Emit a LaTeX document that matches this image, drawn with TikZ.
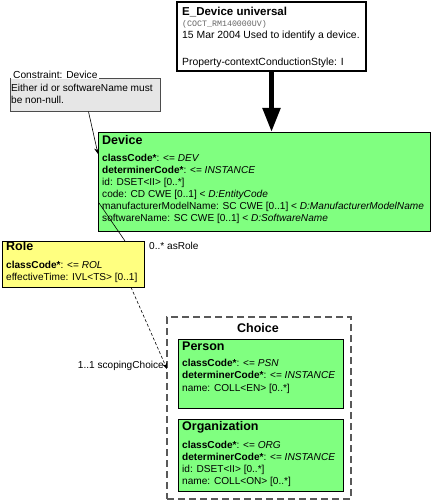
\documentclass[tikz,border=0pt]{standalone}
\usepackage{fontspec}
\setmainfont{Liberation Sans}
\newfontfamily\monof{Liberation Mono}
\usetikzlibrary{arrows.meta}
\definecolor{umlgreen}{RGB}{128,255,128}
\definecolor{umlyellow}{RGB}{255,255,128}
\definecolor{notegray}{RGB}{230,230,230}
\begin{document}
\begin{tikzpicture}[x=1pt,y=-1pt,
  box/.style={draw=black, line width=0.8pt, inner sep=0pt, outer sep=0pt, anchor=north west},
  txt/.style={anchor=base west, inner sep=0pt, font=\fontsize{10.1}{12}\selectfont},
  ttl/.style={anchor=base west, inner sep=0pt, font=\fontsize{12.5}{15}\selectfont\bfseries},
  assoc/.style={line width=0.6pt, -{Stealth[length=6pt,width=5pt]}}
]
\useasboundingbox (0,0) rectangle (433,500);

% header
\node[box, line width=2.2pt, fill=white, minimum width=189pt, minimum height=69pt] (hdr) at (177,2) {};
\node[ttl, font=\fontsize{11.5}{14}\selectfont\bfseries] (ht) at (182,16) {E\_Device universal};
\node[anchor=base west, inner sep=0pt, font=\monof\fontsize{8.3}{10}\selectfont, text=black!60] (hcode) at (182,27) {(COCT\_RM140000UV)};
\node[txt, font=\fontsize{10.4}{12}\selectfont] (h1) at (182,39) {15 Mar 2004 Used to identify a device.};
\node[txt, font=\fontsize{10.4}{12}\selectfont] (h2) at (182,66) {Property-contextConductionStyle: I};

% constraint
\node[box, draw=black!70, fill=notegray, minimum width=150.7pt, minimum height=33.7pt] (con) at (10,78) {};
\node[anchor=base west, inner xsep=2pt, inner ysep=1pt, fill=white, font=\fontsize{10.2}{12}\selectfont] (conl) at (11,78.3) {Constraint: Device};
\node[txt] (c1) at (11,91.7) {Either id or softwareName must};
\node[txt] (c2) at (11,104) {be non-null.};

% device
\node[box, fill=umlgreen, minimum width=332pt, minimum height=99pt] (dev) at (98,132) {};
\node[ttl] (dt) at (102,144.3) {Device};
\node[txt] (d1) at (102,161.3) {\textbf{classCode*}: <= \textit{DEV}};
\node[txt] (d2) at (102,173.3) {\textbf{determinerCode*}: <= \textit{INSTANCE}};
\node[txt] (d3) at (102,185.3) {id: DSET<II> [0..*]};
\node[txt] (d4) at (102,197.3) {code: CD CWE [0..1] < \textit{D:EntityCode}};
\node[txt] (d5) at (102,209.3) {manufacturerModelName: SC CWE [0..1] < \textit{D:ManufacturerModelName}};
\node[txt] (d6) at (102,221.3) {softwareName: SC CWE [0..1] < \textit{D:SoftwareName}};

% role
\node[box, fill=umlyellow, minimum width=142.3pt, minimum height=46.3pt] (role) at (2,241) {};
\node[ttl] (rt) at (6,250.7) {Role};
\node[txt] (r1) at (6,268.3) {\textbf{classCode*}: <= \textit{ROL}};
\node[txt] (r2) at (6,280.5) {effectiveTime: IVL<TS> [0..1]};

% choice
\node[box, draw=black!65, line width=1.3pt, dash pattern=on 7pt off 4pt, minimum width=184pt, minimum height=182pt] (choice) at (167,317) {};
\node[anchor=base, inner sep=0pt, font=\fontsize{12.5}{15}\selectfont\bfseries] (cht) at (258,332.7) {Choice};

\node[box, fill=umlgreen, minimum width=165pt, minimum height=69pt] (per) at (178,339) {};
\node[ttl] (pt) at (182,350) {Person};
\node[txt] (p1) at (182,366.7) {\textbf{classCode*}: <= \textit{PSN}};
\node[txt] (p2) at (182,378.9) {\textbf{determinerCode*}: <= \textit{INSTANCE}};
\node[txt] (p3) at (182,391.1) {name: COLL<EN> [0..*]};

\node[box, fill=umlgreen, minimum width=165pt, minimum height=72pt] (org) at (178,419) {};
\node[ttl] (ot) at (182,430.7) {Organization};
\node[txt] (o1) at (182,448.3) {\textbf{classCode*}: <= \textit{ORG}};
\node[txt] (o2) at (182,460.5) {\textbf{determinerCode*}: <= \textit{INSTANCE}};
\node[txt] (o3) at (182,472.7) {id: DSET<II> [0..*]};
\node[txt] (o4) at (182,484.9) {name: COLL<ON> [0..*]};

% labels
\node[txt] (lrole) at (149,249) {0..* asRole};
\node[txt, anchor=base east] (lchoice) at (164,368) {1..1 scopingChoice};

% connectors
\draw[line width=5pt, -{Triangle[length=24pt,width=17pt]}] (hdr.south) -- (hdr.south |- dev.north);
\draw[assoc] ([xshift=78.5pt]con.south west) -- ([yshift=-22pt]dev.north west);
\coordinate (devrole) at (99,203);
\draw[line width=0.6pt] (devrole) -- ([xshift=123pt]role.north west);
\draw[assoc, dash pattern=on 3pt off 2pt] ([xshift=129pt]role.south west) -- ([yshift=-52pt]choice.north west);
\end{tikzpicture}
\end{document}
